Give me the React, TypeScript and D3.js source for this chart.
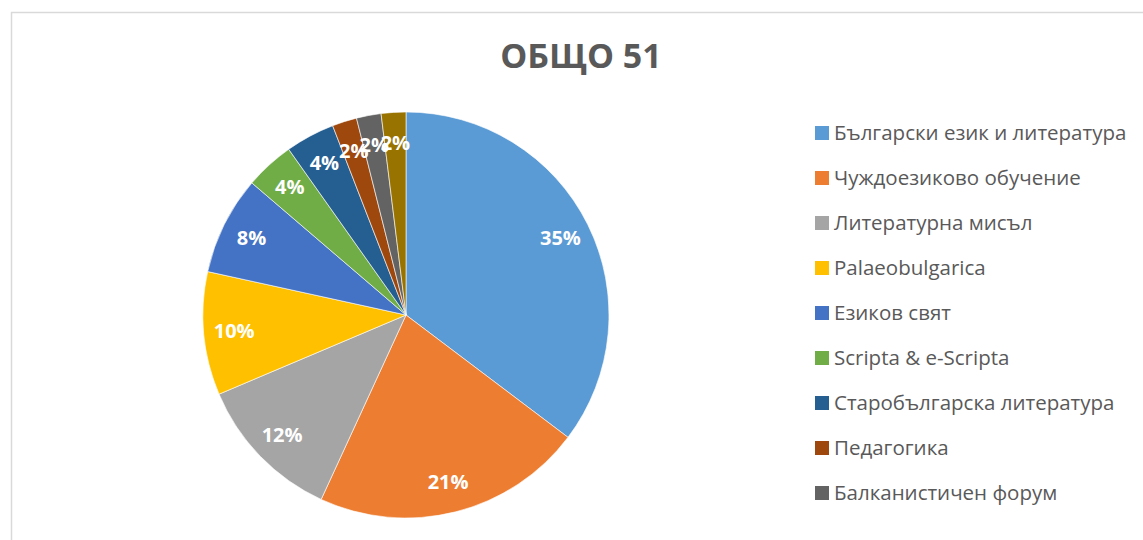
import React from "react";
import * as d3 from "d3";

const categories = [
  "Български език и литература",
  "Чуждоезиково обучение",
  "Литературна мисъл",
  "Palaeobulgarica",
  "Езиков свят",
  "Scripta & e-Scripta",
  "Старобългарска литература",
  "Педагогика",
  "Балканистичен форум",
  "Други",
];
const values = [18, 11, 6, 5, 4, 2, 2, 1, 1, 1];
const percentLabels = ["35%", "21%", "12%", "10%", "8%", "4%", "4%", "2%", "2%", "2%"];
const colors = ["#5B9BD5", "#ED7D31", "#A5A5A5", "#FFC000", "#4472C4", "#70AD47", "#255E91", "#9E480E", "#636363", "#997300"];
const title = "ОБЩО 51";
const legendCount = 9;

const W = 1143;
const H = 540;
const cx = 406;
const cy = 315;
const R = 203;
const FONT = "'Open Sans', 'Noto Sans', sans-serif";

export default function App() {
  const pie = d3.pie<number>().sort(null).value((d) => d);
  const arcs = pie(values);
  const arcGen = d3.arc<d3.PieArcDatum<number>>().innerRadius(0).outerRadius(R);
  const labelArc = d3.arc<d3.PieArcDatum<number>>().innerRadius(R * 0.85).outerRadius(R * 0.85);
  const legendY = d3.scaleLinear().domain([0, 1]).range([133, 178]);

  return (
    <svg width={W} height={H} style={{ position: "absolute", left: 0, top: 0, background: "#fff" }} fontFamily={FONT}>
      <rect x={11.5} y={12.5} width={W} height={H} fill="#fff" stroke="#d9d9d9" strokeWidth={1.5} />
      <text x={581} y={68} textAnchor="middle" fontSize={34} fontWeight="bold" fill="#595959">{title}</text>
      <g transform={`translate(${cx},${cy})`}>
        {arcs.map((a, i) => (
          <path key={i} d={arcGen(a) || ""} fill={colors[i]} stroke="#fff" strokeWidth={0.6} />
        ))}
        {arcs.map((a, i) => {
          const [x, y] = labelArc.centroid(a);
          return (
            <text key={i} x={x} y={y} dy="0.35em" textAnchor="middle" fontSize={20} fontWeight="bold" fill="#fff">
              {percentLabels[i]}
            </text>
          );
        })}
      </g>
      <g>
        {categories.slice(0, legendCount).map((c, i) => (
          <g key={i} transform={`translate(815,${legendY(i)})`}>
            <rect x={0} y={-7} width={14} height={14} fill={colors[i]} />
            <text x={19} y={0} dy="0.35em" fontSize={20.5} fill="#595959">{c}</text>
          </g>
        ))}
      </g>
    </svg>
  );
}
